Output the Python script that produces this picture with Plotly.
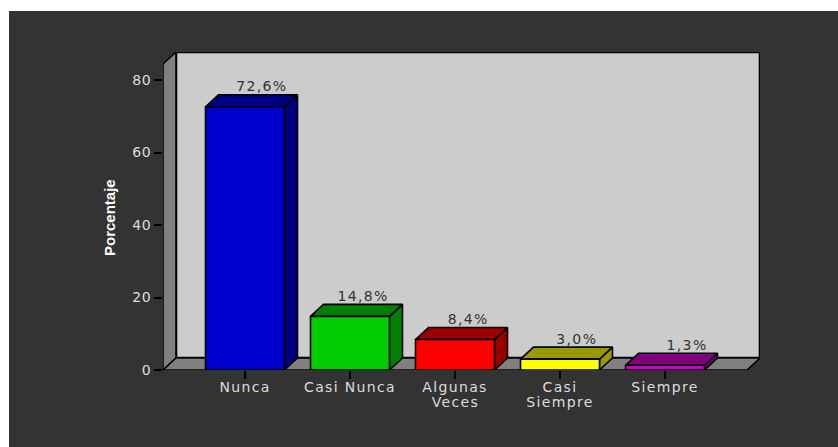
import plotly.graph_objects as go

# Survey responses, percent of respondents
categories = ["Nunca", "Casi Nunca", "Algunas", "Casi", "Siempre"]
second_lines = ["", "", "Veces", "Siempre", ""]
values = [72.6, 14.8, 8.4, 3.0, 1.3]
value_labels = ["72,6%", "14,8%", "8,4%", "3,0%", "1,3%"]
front_colors = ["#0000CC", "#00CC00", "#FF0000", "#FFFF00", "#CC00CC"]
shade_colors = ["#000080", "#007F00", "#990000", "#999900", "#800080"]
y_ticks = [0, 20, 40, 60, 80]

W, H = 838, 447
LEFT, RIGHT, TOP, BOTTOM = 163, 760, 52, 370
PX_PER_CAT = 105.0
PX_PER_UNIT = 3.625
FIRST_CENTER = 245.0

x_lo = (LEFT - FIRST_CENTER) / PX_PER_CAT
x_hi = (RIGHT - FIRST_CENTER) / PX_PER_CAT
y_hi = (BOTTOM - TOP) / PX_PER_UNIT
dx = 13 / PX_PER_CAT   # depth of the oblique projection
dy = 12 / PX_PER_UNIT
half = 39.5 / PX_PER_CAT
wall_top = y_hi - dy
label_dx = [0.16, 0.125, 0.125, 0.16, 0.21]
EDGE = dict(color="#000000", width=1.6)

fig = go.Figure()


def face(xs, ys, fill, line=EDGE):
    fig.add_trace(go.Scatter(
        x=xs + xs[:1], y=ys + ys[:1], mode="lines", fill="toself",
        fillcolor=fill, line=line, hoverinfo="skip", showlegend=False))


# Chart box: back wall, left wall, floor
x_front_right = x_hi - dx
face([x_lo + dx, x_hi, x_hi, x_lo + dx], [dy, dy, y_hi, y_hi], "#CCCCCC",
     dict(color="#000000", width=2.6))
face([x_lo, x_lo + dx, x_lo + dx, x_lo], [0, dy, y_hi, wall_top], "#808080")
face([x_lo, x_lo + dx, x_hi, x_front_right], [0, dy, dy, 0], "#808080")

# Oblique bars: side, top, then front face
for i, (v, front, shade) in enumerate(zip(values, front_colors, shade_colors)):
    l, r = i - half, i + half
    face([r, r + dx, r + dx, r], [0, dy, v + dy, v], shade)
    face([l, r, r + dx, l + dx], [v, v, v + dy, v + dy], shade)
    face([l, r, r, l], [0, 0, v, v], front)

# Value labels sit just above each bar's top face
fig.add_trace(go.Scatter(
    x=[i + o for i, o in enumerate(label_dx)],
    y=[v + dy for v in values],
    mode="text", text=value_labels, textposition="top center",
    textfont=dict(family="DejaVu Sans", size=14, color="#333333"),
    hoverinfo="skip", showlegend=False, cliponaxis=False))

# Second line of the two-line category names, set tighter than a line break allows
for i, text in enumerate(second_lines):
    if text:
        fig.add_annotation(
            x=i, xref="x", y=0, yref="y", yshift=-22, yanchor="top",
            text=text, showarrow=False,
            font=dict(family="DejaVu Sans", size=14, color="#DDDDDD"))

# Axis title, centred a little below the middle of the plot
fig.add_annotation(
    x=(109 - LEFT) / (RIGHT - LEFT), xref="paper", xanchor="center",
    y=(BOTTOM - 218) / (BOTTOM - TOP), yref="paper", yanchor="middle",
    text="<b>Porcentaje</b>", textangle=-90, showarrow=False,
    font=dict(family="Liberation Sans", size=15, color="#FFFFFF"))

fig.update_layout(
    width=W, height=H, autosize=False,
    margin=dict(l=LEFT, r=W - RIGHT, t=TOP, b=H - BOTTOM, pad=0),
    paper_bgcolor="#FFFFFF", plot_bgcolor="rgba(0,0,0,0)",
    font=dict(family="DejaVu Sans", color="#DDDDDD"),
    showlegend=False,
    xaxis=dict(
        range=[x_lo, x_hi], tickmode="array",
        tickvals=list(range(len(categories))), ticktext=categories,
        showgrid=False, zeroline=False, showline=False,
        ticks="outside", ticklen=8, tickwidth=2, tickcolor="#000000",
        ticklabelstandoff=-4,
        tickfont=dict(family="DejaVu Sans", size=14, color="#DDDDDD"),
        tickangle=0),
    yaxis=dict(
        range=[0, y_hi], tickmode="array", tickvals=y_ticks,
        showgrid=False, zeroline=False, showline=False,
        ticks="outside", ticklen=8, tickwidth=2, tickcolor="#000000",
        tickfont=dict(family="DejaVu Sans", size=14, color="#DDDDDD")),
    # Dark panel behind everything, inset from the page's top and left edges
    shapes=[dict(type="rect", layer="below", xref="paper", yref="paper",
                 x0=(9 - LEFT) / (RIGHT - LEFT), x1=(W + 5 - LEFT) / (RIGHT - LEFT),
                 y0=(BOTTOM - H - 5) / (BOTTOM - TOP), y1=(BOTTOM - 11) / (BOTTOM - TOP),
                 fillcolor="#333333", line=dict(width=0))],
)

# Widen the small labels with a little tracking
tracking = """
document.querySelectorAll('.xtick text, .annotation-text, .textpoint text')
  .forEach(function (t) {
    if (t.textContent !== 'Porcentaje') { t.style.letterSpacing = '1.35px'; }
  });
document.querySelectorAll('.ytick text')
  .forEach(function (t) { t.style.letterSpacing = '0.6px'; });
"""
fig.write_html("out.html", config={"displayModeBar": False}, post_script=tracking)
